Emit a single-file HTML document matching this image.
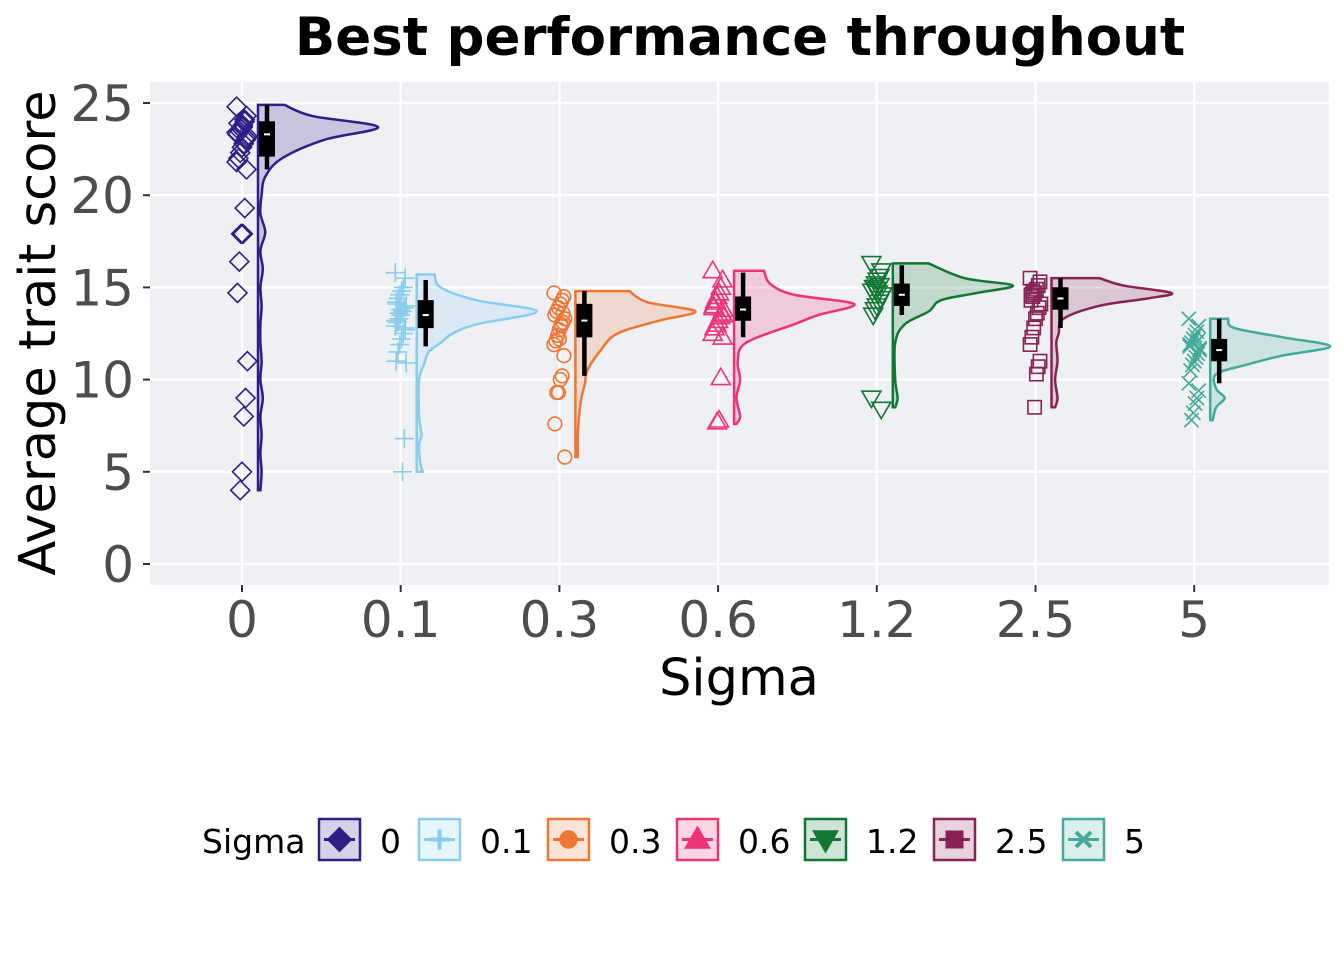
<!DOCTYPE html>
<html><head><meta charset="utf-8"><style>
body{margin:0;background:#fff;}
svg text{font-family:"DejaVu Sans","Liberation Sans",sans-serif;}
</style></head><body>
<svg id="c" width="1344" height="960" xmlns="http://www.w3.org/2000/svg">
<rect x="0" y="0" width="1344" height="960" fill="#fff"/>
<rect x="150" y="82" width="1179" height="503" fill="#EFF0F4"/>
<g id="grid"></g>
<g id="marks"></g>
<g id="axes"></g>
<text x="740" y="55" text-anchor="middle" font-size="53" font-weight="bold">Best performance throughout</text>
<text x="739" y="695" text-anchor="middle" font-size="51">Sigma</text>
<text transform="translate(55,333) rotate(-90)" text-anchor="middle" font-size="51">Average trait score</text>
<g id="legend"></g>
</svg>
<script>
const categories=["0","0.1","0.3","0.6","1.2","2.5","5"];
const colors=["#2E1E86","#88CCEE","#EE7733","#EE3377","#117733","#882255","#44AA99"];
const shapes=["diamond","plus","circle","triUp","triDown","square","cross"];
const yTicks=[0,5,10,15,20,25];
const boxLo=[21.4,11.8,10.2,12.3,13.5,12.8,9.8];
const boxQ1=[22.2,12.9,12.4,13.3,14.1,13.9,11.1];
const boxMed=[23.3,13.5,13.2,13.8,14.6,14.4,11.6];
const boxQ3=[23.9,14.2,14.0,14.4,15.1,14.9,12.1];
const boxHi=[24.9,15.4,14.8,15.8,16.2,15.5,13.3];
const dens0=[[4,0.02],[5,0.03],[6,0.02],[7,0.03],[8,0.02],[9,0.04],[10,0.02],[11,0.03],[12,0.02],[13,0.02],[14,0.03],[15,0.02],[16,0.04],[17,0.02],[18,0.06],[19,0.02],[20,0.03],[21,0.06],[22,0.2],[23,0.55],[23.7,1],[24.3,0.45],[24.9,0.22]];
const dens1=[[5,0.05],[5.5,0.03],[6.5,0.02],[7,0.04],[8,0.02],[10,0.02],[10.8,0.06],[11.5,0.1],[12,0.2],[12.5,0.3],[13,0.5],[13.7,1],[14.3,0.5],[15,0.2],[15.7,0.15]];
const dens2=[[5.8,0.02],[7,0.02],[8,0.03],[9,0.05],[9.8,0.08],[10.5,0.1],[11.5,0.2],[12.5,0.35],[13.2,0.7],[13.7,1],[14.2,0.6],[14.8,0.45]];
const dens3=[[7.6,0.02],[8,0.05],[9,0.02],[10,0.05],[11,0.03],[12,0.1],[13,0.5],[13.5,0.7],[14.1,1],[14.6,0.5],[15.2,0.3],[15.9,0.25]];
const dens4=[[8.5,0.02],[9,0.04],[10,0.02],[12,0.02],[13,0.1],[13.7,0.3],[14.3,0.4],[14.7,0.7],[15.1,1],[15.5,0.6],[16.3,0.3]];
const dens5=[[8.5,0.03],[9,0.05],[10,0.03],[11,0.05],[12,0.04],[12.5,0.06],[13.3,0.1],[14,0.4],[14.4,0.8],[14.7,1],[15.1,0.6],[15.5,0.4]];
const dens6=[[7.8,0.02],[8.5,0.05],[9,0.12],[9.5,0.05],[10.3,0.05],[10.8,0.3],[11.3,0.6],[11.8,1],[12.3,0.6],[12.8,0.2],[13.3,0.15]];
const pts0=[24.8,24.3,24.0,23.8,23.6,23.5,23.3,23.2,23.0,22.8,22.6,22.3,22.0,21.8,21.4,19.3,17.9,17.9,16.4,14.7,11,9,8,5,4,23.9,23.4,23.1,24.1,23.7];
const pts1=[15.8,15.5,15.0,14.8,14.6,14.4,14.2,14.0,13.9,13.7,13.5,13.3,13.1,12.9,12.7,12.5,12.2,11.9,11.5,11.0,10.9,6.8,5.0,13.8,13.6,14.1,13.2,12.8];
const pts2=[14.7,14.5,14.3,14.1,13.9,13.7,13.5,13.3,13.1,12.9,12.7,12.4,12.1,11.9,11.3,10.2,10.0,9.3,9.3,7.6,5.8,13.6,13.0,12.2];
const pts3=[15.9,15.4,15.0,14.7,14.5,14.2,14.0,13.8,13.6,13.4,13.2,13.0,12.8,12.5,12.3,10.1,7.8,7.7,14.3,13.9,13.5];
const pts4=[16.3,15.9,15.6,15.4,15.2,15.0,14.8,14.6,14.4,14.2,14.0,13.8,13.5,9.0,8.4,15.1,14.7,14.9];
const pts5=[15.5,15.3,15.1,14.9,14.7,14.5,14.3,14.1,13.9,13.6,13.3,12.8,12.3,11.9,11.0,10.7,10.3,8.5,14.8,14.6];
const pts6=[13.3,12.9,12.6,12.4,12.2,12.0,11.8,11.6,11.4,11.2,11.0,10.8,10.5,9.8,9.4,9.0,8.7,8.2,7.8,11.9,11.7,12.1];
const dens=[dens0,dens1,dens2,dens3,dens4,dens5,dens6];
const pts=[pts0,pts1,pts2,pts3,pts4,pts5,pts6];
const NS="http://www.w3.org/2000/svg";
const yScale=v=>564-v*18.44;
const xScale=i=>242+i*158.7;
function mk(tag,attrs,parent){const e=document.createElementNS(NS,tag);for(const k in attrs)e.setAttribute(k,attrs[k]);parent.appendChild(e);return e;}
const grid=document.getElementById('grid'),marks=document.getElementById('marks'),axes=document.getElementById('axes'),legend=document.getElementById('legend');
yTicks.forEach(t=>{
  const y=yScale(t);
  const l=mk('line',{x1:150,x2:1329,y1:y,y2:y,stroke:'#fff','stroke-width':2.5},grid);
  
  mk('line',{x1:143,x2:150,y1:y,y2:y,stroke:'#333','stroke-width':2},axes);
  const tx=mk('text',{x:134,y:y+18,'text-anchor':'end','font-size':50,fill:'#4d4d4d'},axes);tx.textContent=t;
  
});
function marker(shape,cx,cy,r,color,parent,sw,fill){
  let e;
  if(shape==='diamond')e=mk('polygon',{points:`${cx},${cy-r} ${cx+r},${cy} ${cx},${cy+r} ${cx-r},${cy}`},parent);
  else if(shape==='plus')e=mk('path',{d:`M${cx-r},${cy}H${cx+r}M${cx},${cy-r}V${cy+r}`},parent);
  else if(shape==='circle')e=mk('circle',{cx:cx,cy:cy,r:r*0.72},parent);
  else if(shape==='triUp')e=mk('polygon',{points:`${cx},${cy-r} ${cx+r},${cy+r*0.72} ${cx-r},${cy+r*0.72}`},parent);
  else if(shape==='triDown')e=mk('polygon',{points:`${cx},${cy+r} ${cx+r},${cy-r*0.72} ${cx-r},${cy-r*0.72}`},parent);
  else if(shape==='square')e=mk('rect',{x:cx-r*0.7,y:cy-r*0.7,width:r*1.4,height:r*1.4},parent);
  else e=mk('path',{d:`M${cx-r*0.75},${cy-r*0.75}L${cx+r*0.75},${cy+r*0.75}M${cx-r*0.75},${cy+r*0.75}L${cx+r*0.75},${cy-r*0.75}`},parent);
  e.setAttribute('fill',fill||'none');e.setAttribute('stroke',color);e.setAttribute('stroke-width',sw||1.6);
  return e;
}
categories.forEach((c,i)=>{
  const cx=xScale(i),col=colors[i];
  const g=mk('g',{},marks);
  
  const gl=mk('line',{x1:cx,x2:cx,y1:82,y2:585,stroke:'#fff','stroke-width':2.5},grid);
  
  const d=dens[i],left=cx+16,W=120;
  const xy=d.map(q=>[left+q[1]*W,yScale(q[0])]);
  let p=`M${left},${xy[0][1]}L${xy[0][0]},${xy[0][1]}`;
  for(let k=0;k<xy.length-1;k++){
    const p0=xy[Math.max(0,k-1)],p1=xy[k],p2=xy[k+1],p3=xy[Math.min(xy.length-1,k+2)];
    const c1=[p1[0]+(p2[0]-p0[0])/6,p1[1]+(p2[1]-p0[1])/6];
    const c2=[p2[0]-(p3[0]-p1[0])/6,p2[1]-(p3[1]-p1[1])/6];
    p+=`C${c1[0]},${c1[1]} ${c2[0]},${c2[1]} ${p2[0]},${p2[1]}`;
  }
  p+=`L${left},${xy[xy.length-1][1]}Z`;
  const v=mk('path',{d:p,fill:col,'fill-opacity':0.2,stroke:col,'stroke-width':2.5},g);
  
  pts[i].forEach((val,k)=>{
    const jit=((k*37)%13-6)*0.9;
    const m=marker(shapes[i],cx+jit,yScale(val),9.5,col,g);
    
  });
  const bx=cx+25;
  const wh=mk('line',{x1:bx,x2:bx,y1:yScale(boxLo[i]),y2:yScale(boxHi[i]),stroke:'#000','stroke-width':4.5},g);
  
  const bb=mk('rect',{x:bx-6,y:yScale(boxQ3[i]),width:12,height:yScale(boxQ1[i])-yScale(boxQ3[i]),fill:'#000',stroke:'#000','stroke-width':4},g);
  
  const md=mk('line',{x1:bx-3,x2:bx+3,y1:yScale(boxMed[i]),y2:yScale(boxMed[i]),stroke:'#fff','stroke-width':2},g);
  
  mk('line',{x1:cx,x2:cx,y1:585,y2:592,stroke:'#333','stroke-width':2},axes);
  const tx=mk('text',{x:cx,y:637,'text-anchor':'middle','font-size':50,fill:'#4d4d4d'},axes);tx.textContent=c;
  
});
const lt=mk('text',{x:202,y:853,'font-size':33},legend);lt.textContent='Sigma';

const lx=[318,418,547,676,804,933,1062];
categories.forEach((c,i)=>{
  const g=mk('g',{},legend);
  
  mk('rect',{x:lx[i]+1,y:819,width:41,height:41,fill:colors[i],'fill-opacity':0.2,stroke:colors[i],'stroke-width':2.5},g);
  mk('line',{x1:lx[i]+6,x2:lx[i]+37,y1:839.5,y2:839.5,stroke:colors[i],'stroke-width':3},g);
  marker(shapes[i],lx[i]+21.5,839.5,10,colors[i],g,4,(shapes[i]==='plus'||shapes[i]==='cross')?'none':colors[i]);
  const t=mk('text',{x:lx[i]+62,y:853,'font-size':33},g);t.textContent=c;
});
</script>
</body></html>
